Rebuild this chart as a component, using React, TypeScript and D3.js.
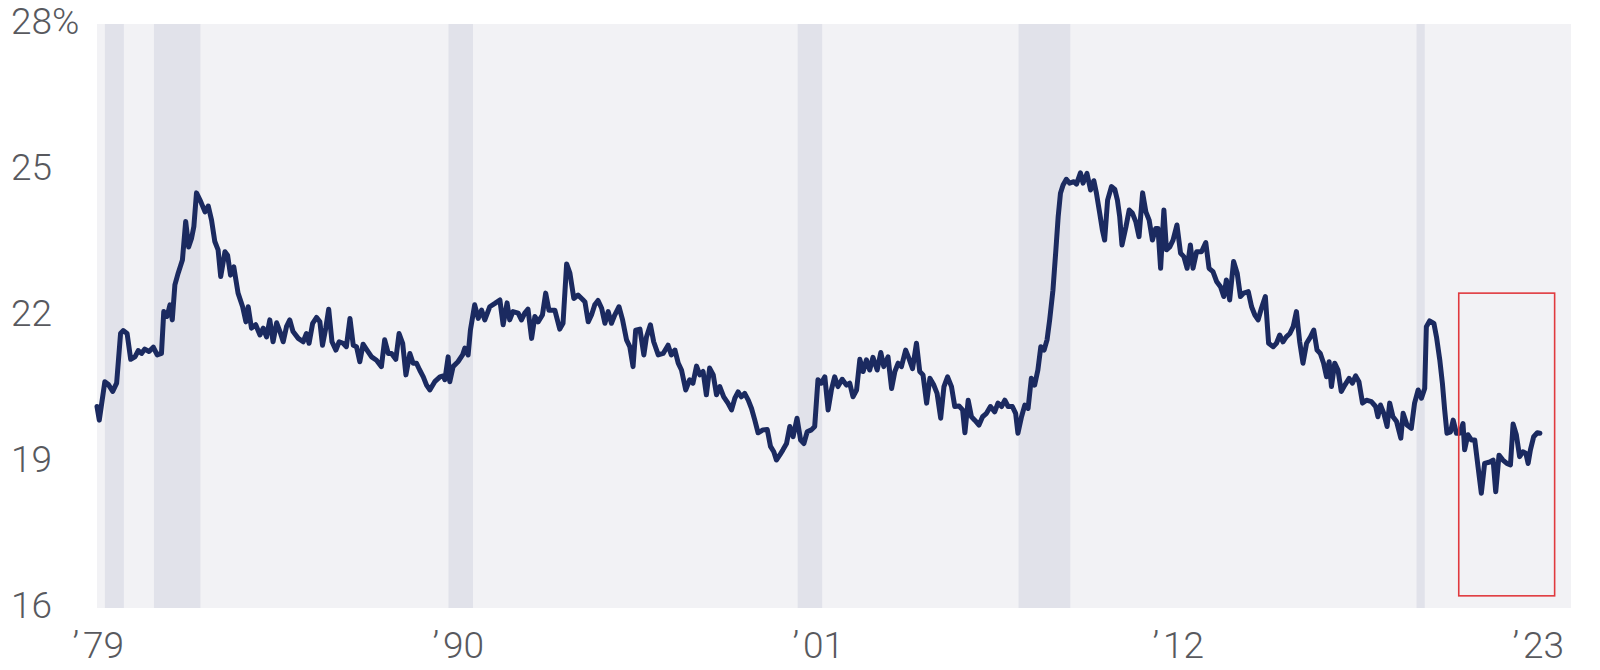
import React, { useEffect, useRef } from 'react';
import * as d3 from 'd3';

// [decimal year, percent]
const series: [number, number][] = [
  [1979.76, 20.14], [1979.83, 19.86], [1980.0, 20.65], [1980.1, 20.6], [1980.24, 20.45], [1980.36, 20.62],
  [1980.48, 21.64], [1980.56, 21.7], [1980.68, 21.64], [1980.79, 21.11], [1980.92, 21.16], [1981.02, 21.29],
  [1981.12, 21.23], [1981.22, 21.32], [1981.35, 21.27], [1981.48, 21.36], [1981.6, 21.2], [1981.73, 21.23],
  [1981.8, 22.09], [1981.9, 21.99], [1981.99, 22.23], [1982.06, 21.92], [1982.14, 22.64], [1982.24, 22.88],
  [1982.37, 23.15], [1982.47, 23.94], [1982.56, 23.42], [1982.65, 23.6], [1982.72, 23.84], [1982.8, 24.53],
  [1982.93, 24.35], [1983.06, 24.14], [1983.16, 24.26], [1983.26, 23.97], [1983.36, 23.53], [1983.46, 23.36],
  [1983.54, 22.81], [1983.67, 23.32], [1983.75, 23.25], [1983.84, 22.84], [1983.94, 23.01], [1984.07, 22.47],
  [1984.21, 22.19], [1984.31, 21.88], [1984.38, 22.19], [1984.48, 21.75], [1984.61, 21.82], [1984.74, 21.61],
  [1984.84, 21.75], [1984.94, 21.57], [1985.04, 21.92], [1985.14, 21.47], [1985.25, 21.86], [1985.35, 21.68],
  [1985.45, 21.47], [1985.55, 21.78], [1985.65, 21.92], [1985.75, 21.68], [1985.91, 21.54], [1986.06, 21.47],
  [1986.16, 21.64], [1986.24, 21.44], [1986.35, 21.85], [1986.47, 21.97], [1986.57, 21.88], [1986.65, 21.4],
  [1986.75, 21.75], [1986.84, 22.14], [1986.94, 21.47], [1987.06, 21.3], [1987.16, 21.47], [1987.28, 21.44],
  [1987.38, 21.37], [1987.49, 21.95], [1987.59, 21.4], [1987.69, 21.37], [1987.79, 21.06], [1987.89, 21.42],
  [1988.01, 21.3], [1988.15, 21.16], [1988.3, 21.09], [1988.45, 20.96], [1988.55, 21.51], [1988.66, 21.23],
  [1988.76, 21.23], [1988.89, 21.11], [1988.99, 21.64], [1989.1, 21.44], [1989.2, 20.79], [1989.32, 21.23],
  [1989.42, 21.03], [1989.52, 21.03], [1989.62, 20.89], [1989.73, 20.75], [1989.83, 20.58], [1989.93, 20.48],
  [1990.08, 20.65], [1990.24, 20.75], [1990.34, 20.77], [1990.39, 20.69], [1990.49, 21.16], [1990.54, 20.65],
  [1990.64, 20.96], [1990.79, 21.06], [1990.93, 21.2], [1991.0, 21.34], [1991.1, 21.2], [1991.17, 21.71],
  [1991.3, 22.23], [1991.41, 21.95], [1991.51, 22.12], [1991.61, 21.92], [1991.76, 22.19], [1991.92, 22.26],
  [1992.07, 22.33], [1992.17, 21.82], [1992.29, 22.27], [1992.37, 21.92], [1992.47, 22.09], [1992.63, 22.06],
  [1992.73, 21.92], [1992.83, 22.06], [1992.93, 22.14], [1993.04, 21.54], [1993.14, 21.99], [1993.24, 21.88],
  [1993.37, 22.02], [1993.47, 22.47], [1993.57, 22.12], [1993.75, 22.12], [1993.9, 21.73], [1994.0, 21.85],
  [1994.11, 23.07], [1994.21, 22.88], [1994.33, 22.36], [1994.46, 22.43], [1994.6, 22.34], [1994.67, 22.29],
  [1994.77, 21.88], [1994.87, 22.02], [1994.97, 22.23], [1995.07, 22.32], [1995.18, 22.16], [1995.28, 21.85],
  [1995.38, 22.09], [1995.48, 21.85], [1995.58, 22.02], [1995.71, 22.19], [1995.82, 21.92], [1995.94, 21.51],
  [1996.04, 21.37], [1996.14, 20.96], [1996.22, 21.71], [1996.35, 21.73], [1996.47, 21.2], [1996.55, 21.57],
  [1996.67, 21.82], [1996.77, 21.47], [1996.91, 21.2], [1997.06, 21.23], [1997.21, 21.4], [1997.31, 21.2],
  [1997.42, 21.3], [1997.52, 21.03], [1997.62, 20.89], [1997.75, 20.48], [1997.87, 20.69], [1997.97, 20.62],
  [1998.08, 20.97], [1998.18, 20.79], [1998.28, 20.86], [1998.38, 20.38], [1998.48, 20.93], [1998.59, 20.79],
  [1998.69, 20.38], [1998.79, 20.55], [1998.91, 20.34], [1999.04, 20.21], [1999.15, 20.07], [1999.25, 20.31],
  [1999.35, 20.44], [1999.45, 20.34], [1999.55, 20.41], [1999.66, 20.27], [1999.76, 20.1], [1999.86, 19.86],
  [1999.96, 19.6], [2000.11, 19.66], [2000.24, 19.67], [2000.34, 19.32], [2000.44, 19.21], [2000.52, 19.04],
  [2000.62, 19.14], [2000.72, 19.25], [2000.83, 19.38], [2000.93, 19.73], [2001.03, 19.52], [2001.15, 19.9],
  [2001.26, 19.45], [2001.36, 19.38], [2001.46, 19.62], [2001.59, 19.66], [2001.69, 19.73], [2001.79, 20.69],
  [2001.89, 20.62], [2002.0, 20.75], [2002.1, 20.07], [2002.2, 20.48], [2002.3, 20.75], [2002.4, 20.55],
  [2002.53, 20.7], [2002.66, 20.58], [2002.76, 20.62], [2002.86, 20.34], [2002.97, 20.48], [2003.07, 21.11],
  [2003.17, 20.86], [2003.27, 21.1], [2003.37, 20.89], [2003.47, 21.15], [2003.6, 20.89], [2003.71, 21.25],
  [2003.8, 20.96], [2003.93, 21.16], [2004.04, 20.51], [2004.14, 20.86], [2004.24, 21.03], [2004.34, 20.96],
  [2004.47, 21.3], [2004.57, 21.13], [2004.68, 20.92], [2004.8, 21.44], [2004.9, 20.86], [2005.0, 20.79],
  [2005.11, 20.21], [2005.21, 20.72], [2005.33, 20.58], [2005.43, 20.41], [2005.54, 19.9], [2005.64, 20.55],
  [2005.75, 20.75], [2005.87, 20.55], [2005.97, 20.14], [2006.1, 20.15], [2006.21, 20.07], [2006.28, 19.6],
  [2006.38, 20.27], [2006.48, 19.93], [2006.58, 19.86], [2006.71, 19.76], [2006.82, 19.93], [2006.94, 20.0],
  [2007.06, 20.14], [2007.19, 20.03], [2007.29, 20.21], [2007.4, 20.14], [2007.5, 20.27], [2007.6, 20.14],
  [2007.73, 20.14], [2007.83, 20.0], [2007.9, 19.59], [2008.01, 19.93], [2008.11, 20.17], [2008.21, 20.1],
  [2008.31, 20.72], [2008.41, 20.58], [2008.51, 20.89], [2008.6, 21.37], [2008.7, 21.3], [2008.79, 21.51],
  [2008.87, 21.92], [2008.97, 22.53], [2009.06, 23.36], [2009.13, 24.04], [2009.2, 24.52], [2009.28, 24.69],
  [2009.38, 24.81], [2009.48, 24.73], [2009.61, 24.76], [2009.69, 24.71], [2009.81, 24.94], [2009.89, 24.73],
  [2010.01, 24.93], [2010.12, 24.59], [2010.22, 24.78], [2010.3, 24.52], [2010.4, 24.11], [2010.48, 23.77],
  [2010.55, 23.56], [2010.64, 24.38], [2010.76, 24.66], [2010.86, 24.6], [2010.94, 24.38], [2011.01, 24.04],
  [2011.08, 23.46], [2011.2, 23.83], [2011.3, 24.18], [2011.4, 24.11], [2011.5, 23.94], [2011.6, 23.63],
  [2011.71, 24.53], [2011.81, 24.14], [2011.91, 23.97], [2012.01, 23.56], [2012.11, 23.8], [2012.18, 23.8],
  [2012.26, 22.98], [2012.36, 24.18], [2012.44, 23.36], [2012.54, 23.42], [2012.64, 23.56], [2012.76, 23.87],
  [2012.87, 23.29], [2012.97, 23.22], [2013.07, 22.98], [2013.17, 23.46], [2013.25, 22.98], [2013.36, 23.32],
  [2013.51, 23.32], [2013.64, 23.51], [2013.74, 22.98], [2013.86, 22.91], [2013.97, 22.71], [2014.09, 22.6],
  [2014.19, 22.4], [2014.27, 22.74], [2014.37, 22.33], [2014.49, 23.12], [2014.6, 22.88], [2014.7, 22.4],
  [2014.8, 22.47], [2014.94, 22.5], [2015.04, 22.19], [2015.14, 22.02], [2015.24, 21.92], [2015.34, 22.16],
  [2015.46, 22.4], [2015.56, 21.44], [2015.7, 21.37], [2015.8, 21.44], [2015.9, 21.61], [2016.0, 21.47],
  [2016.1, 21.57], [2016.21, 21.64], [2016.31, 21.78], [2016.41, 22.09], [2016.51, 21.47], [2016.61, 21.03],
  [2016.72, 21.44], [2016.84, 21.57], [2016.94, 21.71], [2017.04, 21.3], [2017.14, 21.23], [2017.24, 21.03],
  [2017.33, 20.75], [2017.41, 21.06], [2017.48, 20.55], [2017.58, 21.03], [2017.68, 20.89], [2017.78, 20.45],
  [2017.89, 20.58], [2018.02, 20.72], [2018.12, 20.62], [2018.22, 20.77], [2018.32, 20.65], [2018.43, 20.21],
  [2018.55, 20.27], [2018.7, 20.24], [2018.83, 20.14], [2018.9, 19.93], [2018.98, 20.17], [2019.08, 20.0],
  [2019.18, 19.73], [2019.26, 20.21], [2019.36, 19.93], [2019.47, 19.83], [2019.6, 19.49], [2019.67, 20.0],
  [2019.79, 19.76], [2019.92, 19.69], [2020.02, 20.21], [2020.13, 20.48], [2020.23, 20.31], [2020.33, 20.51],
  [2020.38, 21.78], [2020.48, 21.9], [2020.61, 21.85], [2020.69, 21.57], [2020.79, 21.1], [2020.87, 20.62],
  [2020.94, 20.07], [2021.01, 19.59], [2021.12, 19.62], [2021.2, 19.86], [2021.3, 19.59], [2021.4, 19.59],
  [2021.5, 19.79], [2021.55, 19.25], [2021.65, 19.56], [2021.76, 19.45], [2021.86, 19.45], [2021.96, 18.9],
  [2022.06, 18.36], [2022.16, 18.97], [2022.32, 19.0], [2022.42, 19.04], [2022.5, 18.39], [2022.6, 19.14],
  [2022.72, 19.04], [2022.84, 18.97], [2022.95, 18.94], [2023.03, 19.78], [2023.13, 19.56], [2023.23, 19.11],
  [2023.33, 19.21], [2023.42, 19.18], [2023.49, 18.97], [2023.56, 19.25], [2023.66, 19.52], [2023.77, 19.6],
  [2023.85, 19.59],
];

// recessions, start and end as decimal years
const recessionStart = [1980.0, 1981.5, 1990.5, 2001.17, 2007.92, 2020.08];
const recessionEnd = [1980.58, 1982.92, 1991.25, 2001.92, 2009.5, 2020.33];

const yTicks = [16, 19, 22, 25, 28];
const xTickYears = [1979, 1990, 2001, 2012, 2023];
const xTickLabels = ['79', '90', '01', '12', '23'];

// highlighted window
const boxYears = [2021.37, 2024.3];
const boxValues = [16.25, 22.47];

const App: React.FC = () => {
  const svgRef = useRef<SVGSVGElement>(null);

  useEffect(() => {
    if (!svgRef.current) return;
    const width = 1600;
    const height = 670;
    const left = 97, right = 1571, top = 24, bottom = 608;

    const svg = d3.select(svgRef.current);
    svg.selectAll('*').remove();

    const x = d3.scaleLinear().domain([1979.76, 2024.8]).range([left, right]);
    const y = d3.scaleLinear().domain([16, 28]).range([bottom, top]);

    const font = "Roboto, 'Noto Sans', sans-serif";
    const textColor = '#58595e';

    svg.attr('width', width).attr('height', height);

    // plot background
    svg.append('rect')
      .attr('x', left).attr('y', top)
      .attr('width', right - left).attr('height', bottom - top)
      .attr('fill', '#f2f2f5');

    // recession bands
    svg.append('g')
      .selectAll('rect')
      .data(recessionStart)
      .enter()
      .append('rect')
      .attr('x', d => x(d))
      .attr('y', top)
      .attr('width', (d, i) => x(recessionEnd[i]) - x(d))
      .attr('height', bottom - top)
      .attr('fill', '#e1e2ea');

    // y labels
    svg.append('g')
      .selectAll('text')
      .data(yTicks)
      .enter()
      .append('text')
      .attr('x', 11)
      .attr('y', d => y(d) + 10)
      .attr('fill', textColor)
      .style('font-family', font)
      .style('font-size', '37px')
      .style('font-weight', '300')
      .text(d => (d === 28 ? `${d}%` : `${d}`));

    // x labels: apostrophe set slightly apart from the digits
    const xl = svg.append('g')
      .selectAll('text')
      .data(xTickYears)
      .enter()
      .append('text')
      .attr('x', d => x(d + 0.8))
      .attr('y', 658)
      .attr('text-anchor', 'middle')
      .attr('fill', textColor)
      .style('font-family', font)
      .style('font-size', '37px')
      .style('font-weight', '300');
    xl.append('tspan').text('’');
    xl.append('tspan').attr('dx', 4).text((d, i) => xTickLabels[i]);

    // the line
    const line = d3.line<[number, number]>()
      .x(d => x(d[0]))
      .y(d => y(d[1]))
      .curve(d3.curveLinear);

    svg.append('path')
      .datum(series)
      .attr('d', line)
      .attr('fill', 'none')
      .attr('stroke', '#1b2a60')
      .attr('stroke-width', 5)
      .attr('stroke-linejoin', 'round')
      .attr('stroke-linecap', 'round');

    // red highlight box
    svg.append('rect')
      .attr('x', x(boxYears[0]))
      .attr('y', y(boxValues[1]))
      .attr('width', x(boxYears[1]) - x(boxYears[0]))
      .attr('height', y(boxValues[0]) - y(boxValues[1]))
      .attr('fill', 'none')
      .attr('stroke', '#e03a3e')
      .attr('stroke-width', 1.6);
  }, []);

  return (
    <div style={{ position: 'absolute', left: 0, top: 0, width: 1600, height: 670, background: '#fff' }}>
      <svg ref={svgRef} style={{ display: 'block' }} />
    </div>
  );
};

export default App;
